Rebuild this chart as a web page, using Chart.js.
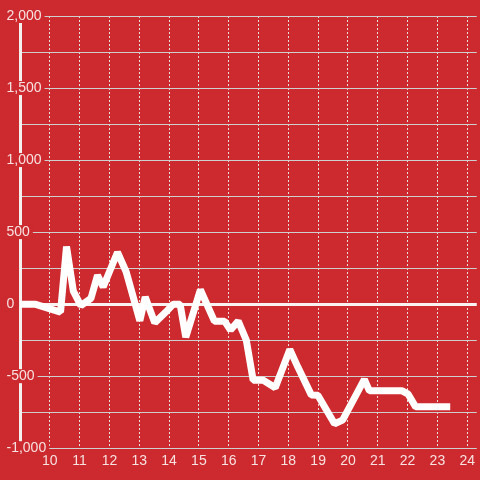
<!DOCTYPE html>
<html>
<head>
<meta charset="utf-8">
<script src="https://cdn.jsdelivr.net/npm/chart.js@4"></script>
<style>
  html, body { margin: 0; padding: 0; background: #cc2a2e; }
  #wrap { width: 480px; height: 480px; }
</style>
</head>
<body>
<div id="wrap"><canvas id="chart" width="480" height="480"></canvas></div>
<script>
  const BG       = '#cc2a2e';
  const LINE     = '#ffffff';
  const GRID     = '#cfcfcf';
  const GRID_V   = '#e8dede';
  const TEXT     = 'rgba(255,255,255,0.86)';
  const FONT     = "'Liberation Sans', Arial, sans-serif";

  // hours of the day
  const times  = [9.0, 9.5, 10.36, 10.56, 10.79, 11.04, 11.38, 11.6, 11.79, 12.27,
                  12.56, 13.02, 13.2, 13.52, 13.89, 14.14, 14.37, 14.56, 15.05, 15.52,
                  15.86, 16.06, 16.32, 16.59, 16.82, 17.16, 17.56, 18.05, 18.32, 18.77,
                  18.99, 19.55, 19.82, 20.55, 20.72, 21.82, 22.02, 22.27, 23.43];
  const values = [0, 0, -55, 400, 90, -10, 40, 200, 120, 360,
                  225, -115, 50, -130, -55, 0, 0, -230, 100, -118,
                  -118, -180, -118, -250, -528, -528, -580, -315, -437, -630,
                  -632, -830, -805, -522, -602, -602, -625, -713, -713];

  const X_MIN = 9, X_MAX = 24.32;
  const Y_MIN = -1000, Y_MAX = 2000, Y_STEP = 250, Y_LABEL_STEP = 500;

  const points = times.map((t, i) => ({ x: t, y: values[i] }));

  new Chart(document.getElementById('chart'), {
    type: 'line',
    data: {
      datasets: [{
        data: points,
        borderColor: LINE,
        borderWidth: 7,
        borderJoinStyle: 'bevel',
        pointRadius: 0,
        tension: 0,
        fill: false,
      }],
    },
    options: {
      responsive: false,
      animation: false,
      layout: { padding: { top: 16, left: 20, right: 0, bottom: 5 } },
      plugins: { legend: { display: false }, tooltip: { enabled: false } },
      scales: {
        x: {
          type: 'linear',
          min: X_MIN,
          max: X_MAX,
          // in v4 the grid line dash comes from border.dash
          border: { display: false, dash: [2, 2] },
          grid: { color: GRID_V, lineWidth: 1, drawTicks: false },
          ticks: {
            stepSize: 1,
            includeBounds: false,
            padding: 5,
            color: TEXT,
            font: { family: FONT, size: 14 },
            callback: v => (v < 10 ? '' : String(v)),
          },
        },
        y: {
          min: Y_MIN,
          max: Y_MAX,
          border: { display: true, color: '#f4f0f0', width: 3 },
          grid: {
            color: c => (c.tick && c.tick.value === 0 ? '#f8f2f2' : GRID),
            lineWidth: c => (c.tick && c.tick.value === 0 ? 3 : 1),
            tickLength: 27,
            tickColor: 'rgba(0,0,0,0)',
          },
          ticks: {
            stepSize: Y_STEP,
            mirror: true,
            padding: -13.5,
            color: TEXT,
            font: { family: FONT, size: 14, lineHeight: 1 },
            showLabelBackdrop: true,
            backdropColor: BG,
            backdropPadding: { top: 0, bottom: 0, left: 2, right: 3 },
            callback: v => (v % Y_LABEL_STEP === 0 ? v.toLocaleString('en-US') : ''),
          },
        },
      },
    },
  });
</script>
</body>
</html>
